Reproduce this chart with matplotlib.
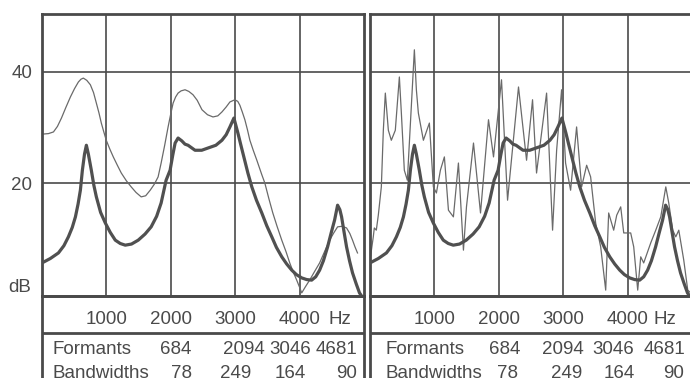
import matplotlib
matplotlib.use("Agg")
import matplotlib.pyplot as plt

plt.rcParams["font.family"] = ["Liberation Sans", "DejaVu Sans"]

# ── Data ──────────────────────────────────────────────────────────────────────
# LPC envelope (same in both panels), Hz / dB
lpc_hz = [0, 130, 255, 340, 410, 470, 519, 560, 596, 627, 660, 689, 720, 766,
          805, 844, 910, 983, 1060, 1138, 1215, 1293, 1390, 1494, 1600, 1695,
          1780, 1850, 1927, 1989, 2030, 2067, 2113, 2170, 2220, 2268, 2376,
          2480, 2577, 2700, 2794, 2860, 2918, 2980, 3042, 3080, 3119, 3197,
          3258, 3330, 3413, 3490, 3568, 3640, 3723, 3800, 3878, 3950, 4033,
          4110, 4187, 4250, 4311, 4370, 4435, 4490, 4543, 4590, 4625, 4652,
          4690, 4729, 4775, 4822, 4880, 4930, 5000]
lpc_db = [5.6, 6.4, 7.4, 8.7, 10.3, 12.0, 13.9, 16.2, 18.7, 22.3, 25.2, 26.8,
          25.2, 22.3, 19.6, 17.5, 14.7, 12.8, 11.1, 9.7, 9.1, 8.8, 9.0, 9.7,
          10.8, 12.1, 14.0, 16.4, 20.5, 22.3, 25.0, 27.2, 28.1, 27.6, 27.0,
          26.8, 25.9, 25.9, 26.3, 26.8, 27.7, 28.7, 30.1, 31.7, 29.0, 27.2,
          25.4, 21.8, 19.3, 16.9, 14.6, 12.3, 10.3, 8.4, 6.7, 5.4, 4.3, 3.5,
          2.9, 2.6, 2.5, 3.1, 4.3, 6.0, 8.5, 11.0, 13.3, 16.0, 15.2, 13.9,
          11.2, 8.5, 6.0, 3.8, 1.8, 0.2, -1.0]

# smoothed spectrum (left panel)
smooth_hz = [0, 100, 178, 240, 302, 370, 441, 505, 565, 605, 642, 695, 751,
             800, 844, 885, 921, 960, 998, 1050, 1107, 1170, 1231, 1310, 1385,
             1460, 1540, 1610, 1680, 1745, 1803, 1850, 1905, 1958, 2000, 2036,
             2075, 2113, 2160, 2221, 2280, 2345, 2410, 2484, 2570, 2655, 2730,
             2794, 2860, 2918, 2995, 3040, 3073, 3110, 3150, 3190, 3228, 3280,
             3336, 3413, 3460, 3520, 3584, 3650, 3723, 3790, 3847, 3900, 3955,
             4000, 4033, 4090, 4156, 4230, 4311, 4390, 4466, 4530, 4590, 4660,
             4729, 4780, 4822, 4860, 4899]
smooth_db = [28.8, 28.9, 29.2, 30.2, 31.7, 33.6, 35.5, 37.0, 38.2, 38.7,
             38.9, 38.5, 37.7, 36.3, 34.4, 32.6, 30.8, 29.2, 27.7, 26.2,
             24.7, 23.2, 21.8, 20.4, 19.3, 18.3, 17.5, 17.7, 18.7, 19.8,
             21.1, 23.6, 26.8, 30.1, 32.5, 34.4, 35.5, 36.2, 36.6, 36.8,
             36.5, 35.9, 34.9, 33.2, 32.3, 31.9, 32.1, 32.8, 33.7, 34.6,
             35.0, 34.7, 34.0, 32.8, 31.4, 29.6, 27.7, 25.9, 24.1, 21.5,
             20.0, 17.3, 14.6, 12.2, 9.7, 7.6, 5.6, 4.0, 2.5, 1.2, 0.2, 1.3,
             2.5, 4.0, 5.6, 7.7, 9.7, 11.0, 12.1, 12.2, 11.9, 10.9, 9.7,
             8.5, 7.4]

# harmonic spectrum (right panel)
fft_hz = [5, 51, 67, 98, 129, 176, 207, 238, 285, 331, 393, 456, 487, 533,
          580, 689, 720, 751, 829, 922, 984, 1031, 1093, 1155, 1218, 1295,
          1373, 1451, 1498, 1607, 1716, 1840, 1918, 2042, 2136, 2306, 2431,
          2524, 2586, 2742, 2835, 2898, 2975, 3037, 3115, 3208, 3286, 3364,
          3426, 3504, 3582, 3660, 3706, 3784, 3831, 3893, 3940, 4048, 4095,
          4157, 4204, 4250, 4359, 4437, 4515, 4593, 4639, 4701, 4748, 4795,
          4872, 4934, 4981]
fft_db = [6.5, 10.3, 11.9, 11.5, 14.2, 19.3, 29.5, 36.2, 29.5, 27.7, 29.5,
          39.1, 32.6, 22.3, 20.5, 44.0, 36.8, 32.6, 27.7, 30.8, 19.3, 18.2,
          22.3, 24.7, 15.1, 13.9, 23.6, 7.9, 15.7, 27.2, 14.6, 31.4, 24.7,
          38.6, 16.9, 37.3, 24.1, 35.0, 21.8, 36.2, 11.5, 25.9, 36.8, 23.6,
          18.7, 30.1, 19.3, 23.2, 21.1, 12.8, 8.5, 0.7, 14.6, 11.5, 14.2,
          15.7, 11.0, 11.0, 8.5, 0.7, 6.7, 5.6, 9.2, 11.5, 13.9, 19.3, 16.4,
          11.5, 10.3, 11.5, 6.1, 0.7, 0.2]

freq_ticks = [1000, 2000, 3000, 4000]
db_ticks = [20, 40]
formants = [684, 2094, 3046, 4681]
bandwidths = [78, 249, 164, 90]

# ── Layout (pixels) ───────────────────────────────────────────────────────────
W, H = 690, 378
INK = "#4a4a4a"
FS = 13.5


def px_box(x0, y0, x1, y1):
    return [x0 / W, 1 - y1 / H, (x1 - x0) / W, (y1 - y0) / H]


fig = plt.figure(figsize=(W / 100, H / 100), dpi=100)
fig.patch.set_facecolor("white")

panels = [
    # plot-left, table column centres, table label offset, Hz offset
    dict(x0=42, cols=[134, 202, 248, 295], bcols=[140, 194, 248, 305],
         lab=10, hz=298, thin=(smooth_hz, smooth_db), ylab=True),
    dict(x0=370, cols=[135, 193, 243.5, 295], bcols=[138, 196.5, 249.5, 303.5],
         lab=15, hz=294.5, thin=(fft_hz, fft_db), ylab=False),
]

for p in panels:
    x0 = p["x0"]
    ax = fig.add_axes(px_box(x0, 14, x0 + 322, 296))
    ax.set_xlim(0, 5000)
    ax.set_ylim(-0.36, 50.45)
    for f in freq_ticks:
        ax.axvline(f, color=INK, lw=1.2, zorder=1)
    for d in db_ticks:
        ax.axhline(d, color=INK, lw=1.2, zorder=1)
    for s in ax.spines.values():
        s.set_color(INK)
        s.set_linewidth(2.0)

    th, td = p["thin"]
    ax.plot(th, td, color="#6a6a6a", lw=0.9, zorder=2)
    ax.plot(lpc_hz, lpc_db, color="#505050", lw=2.3, zorder=3,
            solid_capstyle="round", solid_joinstyle="round")

    ax.set_xticks(freq_ticks)
    ax.set_xticklabels([str(f) for f in freq_ticks])
    ax.tick_params(axis="x", length=0, pad=10.5, labelsize=FS, labelcolor=INK)
    if p["ylab"]:
        ax.set_yticks(db_ticks)
        ax.set_yticklabels([str(d) for d in db_ticks])
        ax.tick_params(axis="y", length=0, pad=7, labelsize=FS, labelcolor=INK)
        ax.text(-0.034, 0.03, "dB", transform=ax.transAxes, ha="right",
                va="center", fontsize=FS, color=INK)
    else:
        ax.set_yticks([])

    # frequency unit + formant table under the plot
    tab = fig.add_axes(px_box(x0, 296, x0 + 322, 420))
    tab.set_facecolor("none")
    tab.set_xlim(0, 322)
    tab.set_ylim(124, 0)
    tab.set_xticks([])
    tab.set_yticks([])
    for s in tab.spines.values():
        s.set_color(INK)
        s.set_linewidth(2.0)
    tab.axhline(37, color=INK, lw=2.0)
    tab.text(p["hz"], 23, "Hz", ha="center", va="center", fontsize=FS, color=INK)
    tab.text(p["lab"], 54, "Formants", ha="left", va="center", fontsize=FS, color=INK)
    tab.text(p["lab"], 77.5, "Bandwidths", ha="left", va="center", fontsize=FS, color=INK)
    for cx, v in zip(p["cols"], formants):
        tab.text(cx, 54, str(v), ha="center", va="center", fontsize=FS, color=INK)
    for cx, v in zip(p["bcols"], bandwidths):
        tab.text(cx, 77.5, str(v), ha="center", va="center", fontsize=FS, color=INK)

fig.savefig("out.png", dpi=100)
